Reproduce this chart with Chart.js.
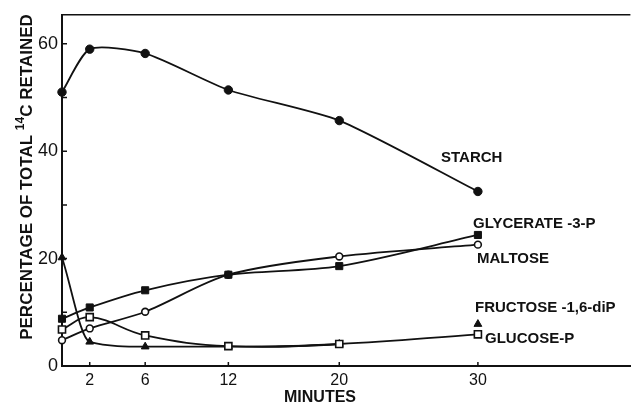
<!DOCTYPE html>
<html>
<head>
<meta charset="utf-8">
<script src="https://cdn.jsdelivr.net/npm/chart.js@4.4.0/dist/chart.umd.min.js"></script>
<style>
  html, body { margin: 0; padding: 0; background: #fff; }
</style>
</head>
<body>
<canvas id="chart" width="637" height="406"></canvas>
<script>
// valores (minutos vs % de 14C retenido)
const minutes = [0, 2, 6, 12, 20, 30];
const starch = [51, 59, 58.2, 51.4, 45.7, 32.5];
const glycerate3P = [8.8, 10.9, 14.1, 17.0, 18.6, 24.4];
const maltose = [4.8, 7.0, 10.1, 17.0, 20.4, 22.6];
const fructoseDiP = [20.2, 4.5, 3.6, 3.6, 4.1, 7.8];
const glucoseP = [6.8, 9.1, 5.7, 3.7, 4.1, 5.9];

const xTicks = [2, 6, 12, 20, 30];
const yTicks = [0, 10, 20, 30, 40, 50, 60];
const yLabelled = [0, 20, 40, 60];

const INK = "#111";

function pts(values) {
    return values.map((v, i) => ({ x: minutes[i], y: v }));
}

// estilo comun de cada serie
function series(label, values, pointStyle, filled, radius, extra) {
    return Object.assign({
        label,
        data: pts(values),
        borderColor: INK,
        borderWidth: 1.8,
        pointStyle,
        pointRadius: radius,
        pointBackgroundColor: filled ? INK : "#fff",
        pointBorderColor: INK,
        pointBorderWidth: filled ? 1 : 1.6,
        tension: 0.4,
        clip: false,
    }, extra || {});
}

// textos y ejes dibujados a mano
const annotations = {
    id: "annotations",
    afterDraw(chart) {
        const { ctx, chartArea, scales } = chart;
        const { left, right, top, bottom } = chartArea;
        ctx.save();
        ctx.strokeStyle = INK;
        ctx.fillStyle = INK;

        // borde superior
        ctx.lineWidth = 1.6;
        ctx.beginPath();
        ctx.moveTo(left, top);
        ctx.lineTo(right, top);
        ctx.stroke();

        // marcas hacia dentro
        ctx.lineWidth = 1.5;
        ctx.beginPath();
        yTicks.slice(1).forEach((v) => {
            const y = scales.y.getPixelForValue(v);
            ctx.moveTo(left, y);
            ctx.lineTo(left + 5, y);
        });
        xTicks.forEach((v) => {
            const x = scales.x.getPixelForValue(v);
            ctx.moveTo(x, bottom);
            ctx.lineTo(x, bottom - 4);
        });
        ctx.stroke();

        // nombres de las series
        ctx.font = 'bold 15px "Liberation Sans", Arial, sans-serif';
        ctx.textAlign = "left";
        ctx.textBaseline = "middle";
        ctx.fillText("STARCH", 441, 158);
        ctx.fillText("GLYCERATE -3-P", 473, 224);
        ctx.fillText("MALTOSE", 477, 259);
        ctx.fillText("FRUCTOSE -1,6-diP", 475, 308);
        ctx.fillText("GLUCOSE-P", 485, 339);

        // titulo eje x
        ctx.font = 'bold 16px "Liberation Sans", Arial, sans-serif';
        ctx.textAlign = "center";
        ctx.fillText("MINUTES", 320, 398);

        // titulo eje y con superindice
        const main = 'bold 17px "Liberation Sans", Arial, sans-serif';
        const sup = 'bold 12px "Liberation Sans", Arial, sans-serif';
        const p1 = "PERCENTAGE OF TOTAL ";
        const p2 = "14";
        const p3 = "C RETAINED";
        ctx.font = main;
        const w1 = ctx.measureText(p1).width;
        const w3 = ctx.measureText(p3).width;
        ctx.font = sup;
        const w2 = ctx.measureText(p2).width;
        const total = w1 + w2 + w3;
        ctx.translate(27, 177);
        ctx.rotate(-Math.PI / 2);
        ctx.textAlign = "left";
        let x = -total / 2;
        ctx.font = main;
        ctx.fillText(p1, x, 0);
        x += w1;
        ctx.font = sup;
        ctx.fillText(p2, x, -6);
        x += w2;
        ctx.font = main;
        ctx.fillText(p3, x, 0);
        ctx.restore();
    },
};

new Chart(document.getElementById("chart"), {
    type: "line",
    data: {
        datasets: [
            series("Starch", starch, "circle", true, 4.2, { tension: 0.22 }),
            series("Glycerate-3-P", glycerate3P, "rect", true, 5, { tension: 0.3 }),
            series("Maltose", maltose, "circle", false, 3.4, { tension: 0.3 }),
            series("Glucose-P", glucoseP, "rect", false, 5),
            series("Fructose-1,6-diP", fructoseDiP, "triangle", true, 4.5, {
                cubicInterpolationMode: "monotone",
                // el ultimo punto va suelto, sin linea
                segment: {
                    borderColor: (c) => (c.p1DataIndex === 5 ? "rgba(0,0,0,0)" : undefined),
                },
            }),
        ],
    },
    options: {
        responsive: false,
        animation: false,
        layout: { padding: { top: 12, right: 0, left: 0, bottom: 0 } },
        plugins: {
            legend: { display: false },
            tooltip: { enabled: false },
        },
        scales: {
            x: {
                type: "linear",
                min: 0,
                max: 41,
                afterBuildTicks: (s) => { s.ticks = xTicks.map((v) => ({ value: v })); },
                afterFit: (s) => { s.height = 40; },
                grid: { display: false, drawTicks: false },
                border: { color: INK, width: 2 },
                ticks: {
                    padding: 5,
                    color: INK,
                    font: { family: '"Liberation Sans", Arial, sans-serif', size: 16 },
                },
            },
            y: {
                type: "linear",
                min: 0,
                max: 65.4,
                afterBuildTicks: (s) => { s.ticks = yTicks.map((v) => ({ value: v })); },
                afterFit: (s) => { s.width = 62; },
                grid: { display: false, drawTicks: false },
                border: { color: INK, width: 2 },
                ticks: {
                    padding: 4,
                    color: INK,
                    font: { family: '"Liberation Sans", Arial, sans-serif', size: 18 },
                    callback: (v) => (yLabelled.includes(v) ? String(v) : ""),
                },
            },
        },
    },
    plugins: [annotations],
});
</script>
</body>
</html>
